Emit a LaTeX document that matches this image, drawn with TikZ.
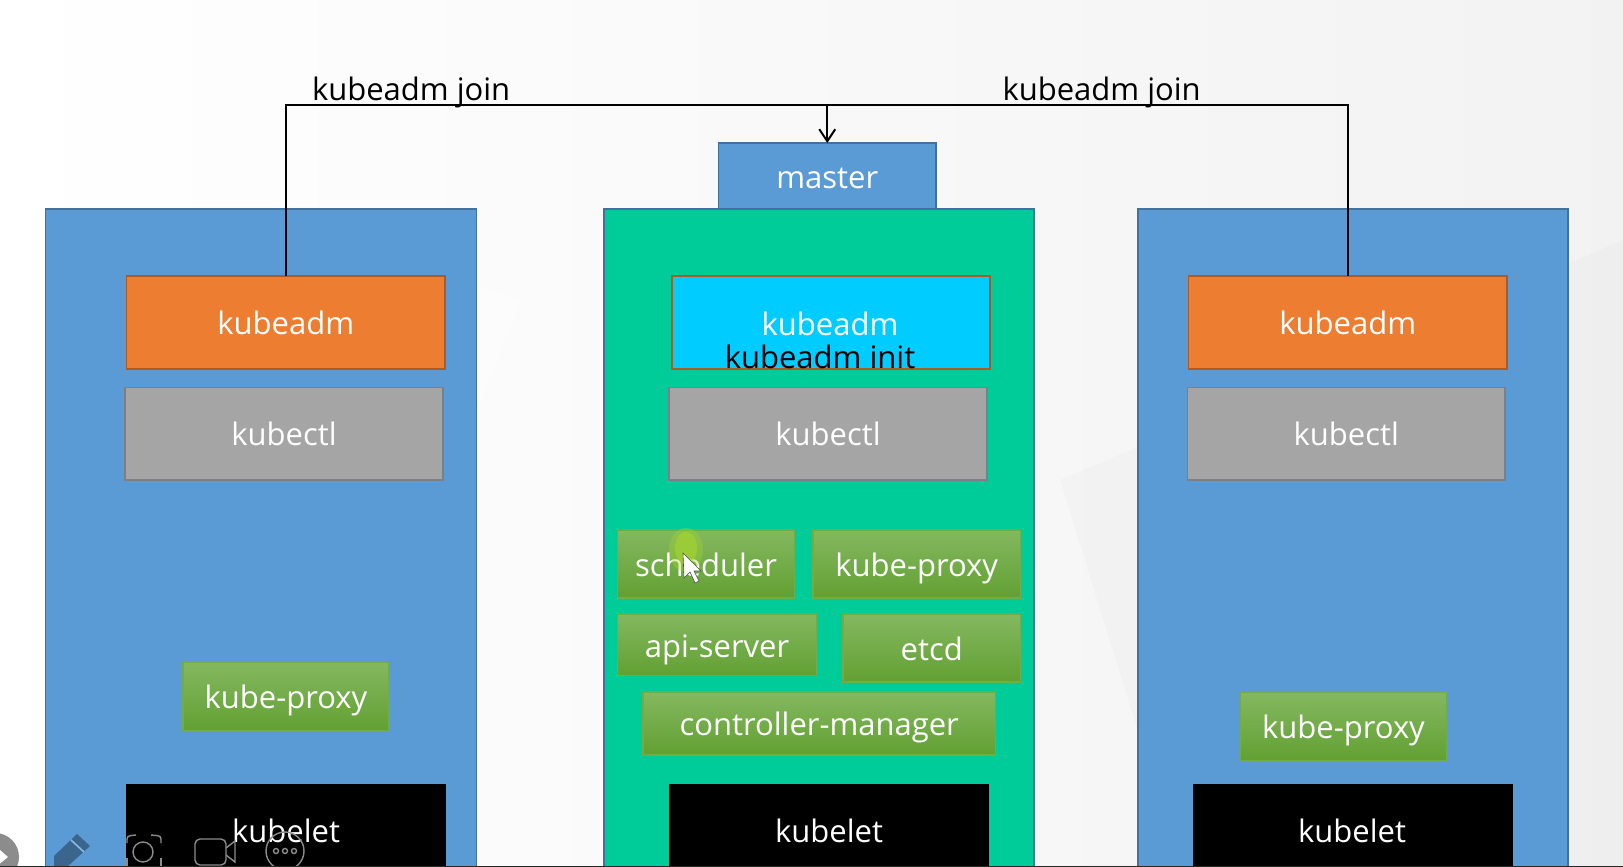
\documentclass[tikz,border=0pt]{standalone}
\usepackage{fontspec}
\usetikzlibrary{arrows.meta}
\setmainfont{Open Sans}
\definecolor{panelblue}{HTML}{5B9BD5}
\definecolor{paneledge}{HTML}{41719C}
\definecolor{panelgreen}{HTML}{00CC99}
\definecolor{adm}{HTML}{ED7D31}
\definecolor{admedge}{HTML}{AE5A21}
\definecolor{ctl}{HTML}{A5A5A5}
\definecolor{ctledge}{HTML}{7C7F85}
\definecolor{cyanbox}{HTML}{00CCFF}
\definecolor{greentop}{HTML}{84B860}
\definecolor{greenbot}{HTML}{62A032}
\definecolor{greenedge}{HTML}{71AD47}
\definecolor{glow}{HTML}{A6D62E}
\tikzset{
  x=0.5pt,y=-0.5pt,
  labelfont/.style={font=\fontsize{15.5pt}{18pt}\selectfont,text height=12.4pt,text depth=0pt},
  px/.style={inner sep=0pt,outer sep=0pt,text=white,labelfont},
  panel/.style={px,draw=paneledge,line width=0.8pt},
  bluepanel/.style={panel,fill=panelblue},
  greenpanel/.style={panel,fill=panelgreen},
  admbox/.style={px,draw=admedge,line width=0.8pt,fill=adm},
  ctlbox/.style={px,draw=ctledge,line width=0.8pt,fill=ctl,text height=11.4pt},
  letbox/.style={px,fill=black},
  greenbox/.style={px,draw=greenedge,line width=0.7pt,top color=greentop,bottom color=greenbot},
  caption/.style={inner sep=0pt,outer sep=0pt,text=black,labelfont},
  wire/.style={line width=1pt,draw=black},
  toolicon/.style={draw=black!45,line width=0.7pt,fill=none}
}
% Box given by its corners in pixel units: name, x0, y0, x1, y1, style, label
\newcommand{\pxbox}[7]{%
  \pgfmathsetmacro{\bw}{(#4-#2)*0.5}%
  \pgfmathsetmacro{\bh}{(#5-#3)*0.5}%
  \node[#6,minimum width=\bw pt,minimum height=\bh pt] (#1) at ({(#2+#4)/2},{(#3+#5)/2}) {#7};}
\begin{document}
\begin{tikzpicture}
\useasboundingbox (0,0) rectangle (1623,867);
\clip (0,0) rectangle (1623,867);
% faceted light backdrop
\shade[left color=white,right color=black!5] (0,0) rectangle (1623,867);
\fill[black,opacity=.015] (1060,480) -- (1623,240) -- (1623,867) -- (1180,867) -- cycle;
\fill[white,opacity=.4] (0,110) -- (520,300) -- (300,867) -- (0,867) -- cycle;

% the three hosts
\pxbox{lhost}{45.5}{209}{476.5}{920}{bluepanel}{}
\pxbox{chost}{604}{209}{1034}{920}{greenpanel}{}
\pxbox{rhost}{1138}{209}{1568}{920}{bluepanel}{}
\pxbox{master}{718.5}{143}{936}{209}{panel,fill=panelblue}{master}

% left host
\pxbox{ladm}{126.5}{276}{445}{369}{admbox}{kubeadm}
\pxbox{lctl}{125}{387.5}{443}{480}{ctlbox}{kubectl}
\pxbox{lproxy}{183}{662}{389}{731}{greenbox}{kube-proxy}
\pxbox{llet}{126}{784}{446}{920}{letbox}{}
\node[px] (llett) at (286,830) {kubelet};

% centre host
\pxbox{cadm}{672}{276}{990}{369}{admbox,fill=cyanbox}{}
\node[px] (cadmt) at (830,323) {kubeadm};
\node[caption] (cinit) at (820,356) {kubeadm init};
\pxbox{cctl}{669}{387.5}{987}{480}{ctlbox}{kubectl}
\pxbox{sched}{617.5}{530}{794.5}{598}{greenbox}{scheduler}
\pxbox{cproxy}{813}{530}{1020.5}{598}{greenbox}{kube-proxy}
\pxbox{api}{617.5}{614}{816.5}{675.5}{greenbox}{api-server}
\pxbox{etcd}{843}{614}{1020.5}{682}{greenbox}{etcd}
\pxbox{ctrl}{643}{692}{995.5}{755}{greenbox}{controller-manager}
\pxbox{clet}{669}{784}{988.5}{920}{letbox}{}
\node[px] (clett) at (829,830) {kubelet};

% right host
\pxbox{radm}{1188.5}{276}{1507}{369}{admbox}{kubeadm}
\pxbox{rctl}{1187.5}{387.5}{1505}{480}{ctlbox}{kubectl}
\pxbox{rproxy}{1240}{692}{1447}{761}{greenbox}{kube-proxy}
\pxbox{rlet}{1193}{784}{1513}{920}{letbox}{}
\node[px] (rlett) at (1352,830) {kubelet};

% join connectors
\coordinate (joint) at (master.north |- 0,105);
\draw[wire] (ladm.north) |- (joint);
\draw[wire] (radm.north) |- (joint);
\draw[wire,-{Straight Barb[length=6pt,width=8pt]}] (joint) -- (master.north);
\node[caption,anchor=base west] (ljoin) at (312,100) {kubeadm join};
\node[caption,anchor=base west] (rjoin) at (1002.5,100) {kubeadm join};

% pointer with its highlight
\fill[glow,opacity=.35] (686,550) ellipse [x radius=17,y radius=22];
\fill[glow,opacity=.6] (686,548) ellipse [x radius=11,y radius=16];
\draw[black!70,fill=white,line width=0.3pt] (683,553) -- (684,578) -- (690,572) -- (695,583) -- (699,581) -- (694,571) -- (701,571) -- cycle;

% recorder toolbar
\fill[black!45] (-5,857) circle [radius=24];
\fill[white] (-8,843) -- (8,857) -- (-8,870) -- cycle;
\fill[paneledge!90!black] (54,867) -- (54,856) -- (77,834) -- (90,846) -- (67,867) -- cycle;
\draw[panelblue!70!white,line width=0.8pt] (71,840) -- (84,852);
\draw[toolicon] (143,852) circle [radius=10];
\draw[toolicon,rounded corners=1.5pt] (127,843) -- (127,836) -- (136,835);
\draw[toolicon,rounded corners=1.5pt] (151,835) -- (161,836) -- (161,843);
\draw[toolicon] (127,858) -- (127,866);
\draw[toolicon] (161,858) -- (161,866);
\draw[toolicon,rounded corners=2.5pt] (195,839) rectangle (226,865);
\draw[toolicon] (226,848) -- (235,841) -- (235,862) -- (226,855);
\draw[toolicon] (285,851) circle [radius=19];
\foreach \dotx in {276,285,294} \draw[toolicon] (\dotx,851) circle [radius=2.5];

% dark last scan line
\fill[black!85] (0,866) rectangle (1623,867);
\end{tikzpicture}
\end{document}
